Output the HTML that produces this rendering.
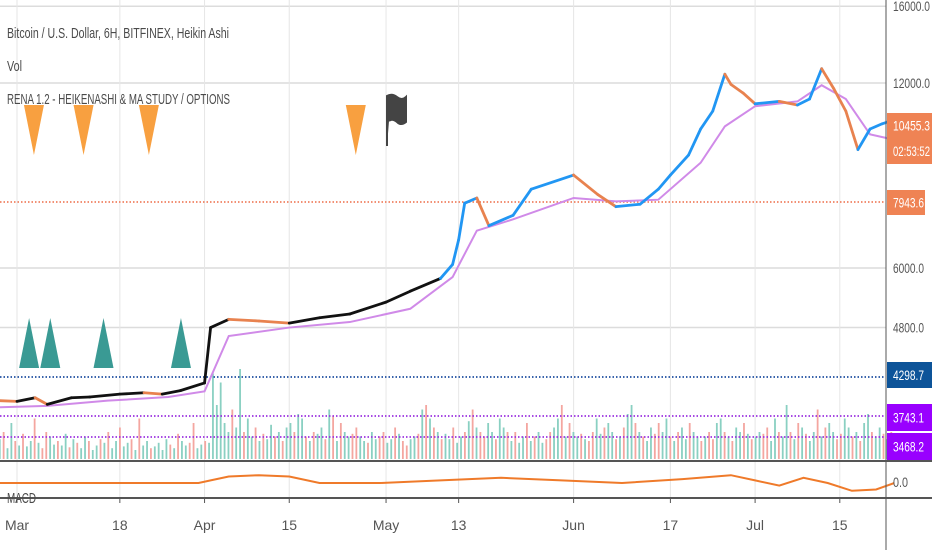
<!DOCTYPE html>
<html><head><meta charset="utf-8"><style>
body{margin:0;background:#fff;font-family:"Liberation Sans",sans-serif}
svg{display:block}
</style></head><body>
<svg id="chart" width="932" height="550" viewBox="0 0 932 550" xmlns="http://www.w3.org/2000/svg" font-family="Liberation Sans, sans-serif">
<rect width="932" height="550" fill="#fff"/>
<g id="grid"></g>
<g id="vol"></g>
<g id="levels"></g>
<g id="series"></g>
<g id="marks"></g>
<g id="axes"></g>
<g fill="#4a4a4a" font-size="14.5">
<text x="7" y="38" textLength="222" lengthAdjust="spacingAndGlyphs">Bitcoin / U.S. Dollar, 6H, BITFINEX, Heikin Ashi</text>
<text x="7" y="71" textLength="15" lengthAdjust="spacingAndGlyphs">Vol</text>
<text x="7" y="104" textLength="223" lengthAdjust="spacingAndGlyphs">RENA 1.2 - HEIKENASHI &amp; MA STUDY / OPTIONS</text>
<text x="7" y="503" textLength="29" lengthAdjust="spacingAndGlyphs">MACD</text>
</g>
</svg>
<script>
// data
const priceDays = [-3,0,3,5,9,12,17,21,24,27,31,32,35,40,45,50,55,61,65,70,72,73,74,76,78,82,85,92,96,99,103,106,108,111,113,115,117,118,120,122,126,129,131,133,135,137,139,141,143,145];
const prices = [3650,3640,3690,3600,3690,3700,3740,3760,3740,3790,3900,4800,4950,4920,4880,4980,5050,5280,5500,5770,6080,6670,7650,7800,7030,7310,8060,8500,7900,7550,7620,8060,8500,9160,10100,10800,12400,11940,11560,11100,11200,11050,11300,12660,11750,10800,9350,10100,10300,10455];
const maDays = [-3,5,15,25,31,35,45,55,65,72,76,82,92,99,106,113,117,122,129,133,137,141,145];
const maValues = [3560,3580,3650,3700,3780,4650,4800,4900,5150,5800,6900,7200,7800,7700,7750,8900,10200,11000,11200,11900,11300,9900,9700];
const volValues = [22,30,12,40,20,15,28,14,20,45,18,12,30,25,16,20,15,28,13,22,18,12,25,20,10,15,22,18,30,12,20,35,14,18,22,10,45,15,20,12,14,18,10,22,16,12,28,20,15,18,40,12,16,20,18,95,60,85,40,30,55,35,100,30,45,25,35,20,28,22,38,25,30,20,35,40,30,50,45,25,20,30,28,35,22,55,48,20,40,30,25,28,35,25,20,18,30,22,25,30,18,22,35,28,20,15,22,25,28,55,60,45,35,30,22,28,22,35,18,25,30,42,55,35,30,25,40,30,22,45,35,30,20,30,18,25,40,20,25,30,18,22,30,35,45,60,25,40,30,25,28,22,20,30,45,28,35,40,30,22,25,35,50,60,40,30,25,20,35,28,40,30,45,25,20,30,35,22,40,30,25,20,25,30,22,40,45,30,25,20,35,30,40,28,22,25,30,28,35,20,45,30,25,60,30,22,40,35,28,20,30,55,25,35,40,30,22,28,45,35,25,30,20,40,50,30,25,35,28,22,30];
const volUp = [1,0,1,1,0,1,0,1,1,0,1,0,0,1,1,0,1,1,0,1,0,1,1,0,1,1,0,1,0,1,1,0,1,1,0,1,0,1,1,0,1,1,1,1,0,1,0,1,1,0,0,1,1,0,1,1,1,1,1,1,0,1,1,0,1,1,0,1,0,1,1,0,1,0,1,1,0,1,1,0,1,0,1,1,0,1,0,1,0,1,1,0,0,1,1,0,1,1,0,0,1,1,0,1,0,0,1,1,0,1,0,1,0,1,0,1,1,0,1,1,0,1,0,1,0,0,1,1,0,1,1,0,1,0,1,1,0,1,0,1,1,0,0,1,1,0,1,0,1,1,0,1,0,0,1,1,0,1,1,0,1,0,1,1,0,1,0,1,1,0,0,1,1,0,1,0,1,1,0,1,1,0,1,0,0,1,1,0,1,0,1,1,0,1,0,1,1,0,0,1,1,0,1,1,0,1,0,1,0,1,1,0,1,0,1,1,0,0,1,1,0,1,0,1,1,0,1,1,0,1,0,1,1,0,1,0,0,1,1,0,1,0,1,1,0,1,0];
const macdDays = [-3,30,32,35,40,45,50,60,70,80,90,100,110,118,122,126,130,134,138,142,145];
const macdValues = [0,0,2,5,6,5,0,0,2,4,2,0,3,6,2,-2,4,0,-6,-5,0];
const yTickValues = [16000,12000,6000,4800];
const yTickLabels = ["16000.0","12000.0","6000.0","4800.0"];
const xTickDays = [0,17,31,45,61,73,92,108,122,136];
const xTickLabels = ["Mar","18","Apr","15","May","13","Jun","17","Jul","15"];
const downTriDays = [2.8,11,21.8,56];
const upTriDays = [2,5.5,14.3,27.1];

const NS="http://www.w3.org/2000/svg";
const xS = d => 17 + d*6.05;
const yS = p => 268 - 266.9*Math.log(p/6000);
const vS = v => 459 - v*0.9;
const mS = v => 483 - v*1.3;
function mk(tag, attrs, parent){const e=document.createElementNS(NS,tag);for(const k in attrs)e.setAttribute(k,attrs[k]);document.getElementById(parent).appendChild(e);return e;}

yTickValues.forEach((v,i)=>{const e=mk('line',{x1:0,x2:886,y1:yS(v),y2:yS(v),stroke:'#dcdcdc','stroke-width':1.5},'grid');

});
xTickDays.forEach(d=>{const e=mk('line',{x1:xS(d),x2:xS(d),y1:0,y2:498,stroke:'#e6e6e6','stroke-width':1},'grid');

});

volValues.forEach((v,i)=>{const d=-3+i*148/volValues.length;const e=mk('rect',{x:xS(d),y:vS(v),width:1.8,height:459-vS(v),fill:volUp[i]?'#8ad0c2':'#f4a6a0'},'vol');

});

[[202,'#f08060'],[377,'#1f4fa0'],[416,'#9b30e0'],[437,'#9b30e0']].forEach(l=>{const e=mk('line',{x1:0,x2:886,y1:l[0],y2:l[0],stroke:l[1],'stroke-width':1.8,'stroke-dasharray':'1.5 2'},'levels');

});

const maPts=maDays.map((d,i)=>xS(d)+','+yS(maValues[i])).join(' ');
const ma=mk('polyline',{points:maPts,fill:'none',stroke:'#d08ae8','stroke-width':2},'series');


for(let i=1;i<prices.length;i++){const up=prices[i]>=prices[i-1];
const e=mk('line',{x1:xS(priceDays[i-1]),y1:yS(prices[i-1]),x2:xS(priceDays[i]),y2:yS(prices[i]),stroke:up?(i<20?'#111':'#2196f3'):'#e8824f','stroke-width':2.8,'stroke-linecap':'round'},'series');

}

const mp=mk('polyline',{points:macdDays.map((d,i)=>xS(d)+','+mS(macdValues[i])).join(' '),fill:'none',stroke:'#ef7a2a','stroke-width':2},'series');



downTriDays.forEach(d=>{const x=xS(d);const e=mk('polygon',{points:(x-10)+',105 '+(x+10)+',105 '+x+',155',fill:'#f8a040'},'marks');

});
upTriDays.forEach(d=>{const x=xS(d);const e=mk('polygon',{points:(x-10)+',368 '+(x+10)+',368 '+x+',318',fill:'#3a9a94'},'marks');

});
const fl=mk('path',{d:'M387,146 V96 Q392,93 397,97 Q402,101 406,97 V122 Q401,126 397,122 Q392,118 389,121',fill:'#444',stroke:'#444','stroke-width':2},'marks');



[[886,0,886,550],[0,461,932,461],[0,498,932,498]].forEach(a=>{const e=mk('line',{x1:a[0],y1:a[1],x2:a[2],y2:a[3],stroke:'#555','stroke-width':a[1]===0?1:2},'axes');

});
yTickValues.forEach((v,i)=>{const t=mk('text',{x:893,y:yS(v)+5,'font-size':14,fill:'#555',textLength:v>=10000?37:31,lengthAdjust:'spacingAndGlyphs'},'axes');t.textContent=yTickLabels[i];

});
const z=mk('text',{x:893,y:487,'font-size':14,fill:'#555',textLength:15,lengthAdjust:'spacingAndGlyphs'},'axes');z.textContent='0.0';


xTickDays.forEach((d,i)=>{const t=mk('text',{x:xS(d),y:530,'font-size':14,fill:'#555','text-anchor':'middle'},'axes');t.textContent=xTickLabels[i];


const k=mk('line',{x1:xS(d),x2:xS(d),y1:498,y2:503,stroke:'#555'},'axes');

});
[[113,25,'#ef8354','10455.3',37],[138,26,'#ef8354','02:53:52',37],[190,25,'#ef8354','7943.6',31],[362,26,'#0d5499','4298.7',31],[404,27,'#9900ff','3743.1',31],[433,27,'#9900ff','3468.2',31]].forEach(b=>{
const r=mk('rect',{x:887,y:b[0],width:b[3]==='7943.6'?38:45,height:b[1],fill:b[2]},'axes');


const t=mk('text',{x:893,y:b[0]+b[1]/2+5,'font-size':14,fill:'#fff',textLength:b[4],lengthAdjust:'spacingAndGlyphs'},'axes');t.textContent=b[3];

});
</script>
</body></html>
